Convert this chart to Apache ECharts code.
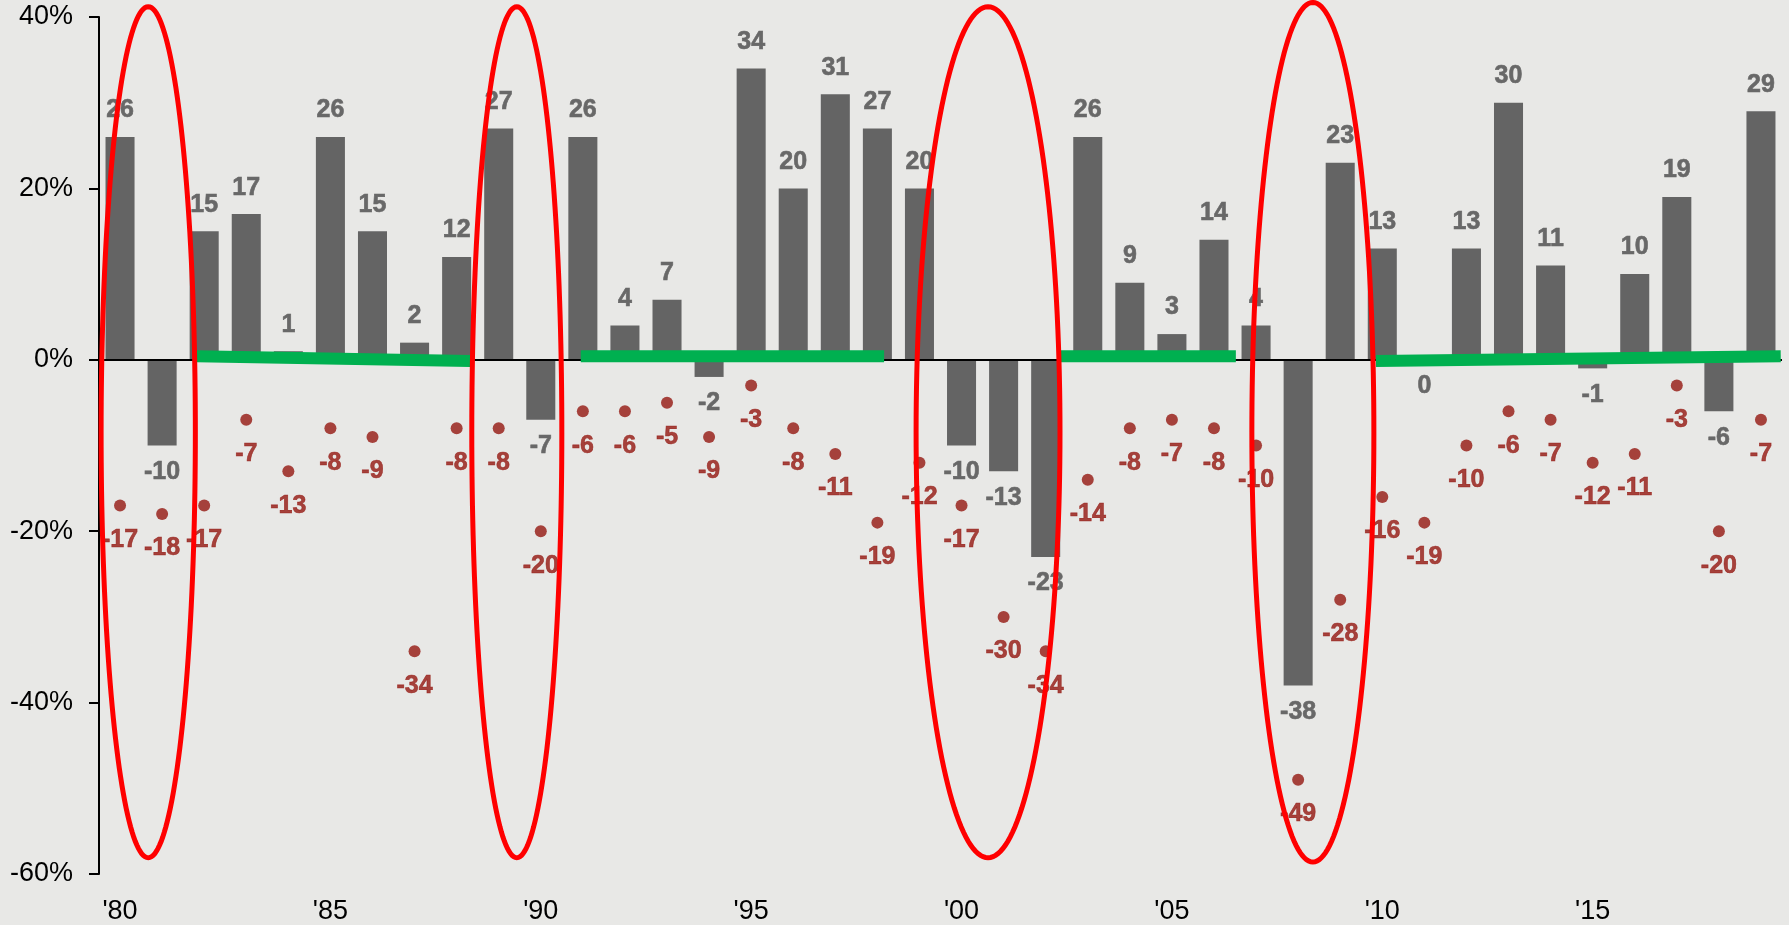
<!DOCTYPE html>
<html>
<head>
<meta charset="utf-8">
<title>Annual returns and intra-year declines</title>
<script src="https://cdn.jsdelivr.net/npm/echarts@6/dist/echarts.min.js"></script>
<style>
  html, body { margin: 0; padding: 0; background: #e8e8e6; }
  #chart { width: 1789px; height: 925px; }
</style>
</head>
<body>
<div id="chart"></div>
<script>
// Calendar years shown on the category axis
const years = ["1980","1981","1982","1983","1984","1985","1986","1987","1988","1989",
               "1990","1991","1992","1993","1994","1995","1996","1997","1998","1999",
               "2000","2001","2002","2003","2004","2005","2006","2007","2008","2009",
               "2010","2011","2012","2013","2014","2015","2016","2017","2018","2019"];

// Calendar-year total return, %
const annualReturns = [26, -10, 15, 17, 1, 26, 15, 2, 12, 27,
                       -7, 26, 4, 7, -2, 34, 20, 31, 27, 20,
                       -10, -13, -23, 26, 9, 3, 14, 4, -38, 23,
                       13, 0, 13, 30, 11, -1, 10, 19, -6, 29];

// Largest intra-year decline, %
const intraYearDeclines = [-17, -18, -17, -7, -13, -8, -9, -34, -8, -8,
                           -20, -6, -6, -5, -9, -3, -8, -11, -19, -12,
                           -17, -30, -34, -14, -8, -7, -8, -10, -49, -28,
                           -16, -19, -10, -6, -7, -12, -11, -3, -20, -7];

// Value-axis ticks, %
const yTicks = [-60, -40, -20, 0, 20, 40];

// Highlighted bear-market periods (ellipses): centre year, half width in years, top and bottom in %
const ellipseCenterYear = [1980.67, 1989.43, 2000.63, 2008.35];
const ellipseHalfWidth  = [1.12, 1.07, 1.71, 1.45];
const ellipseTop        = [41.2, 41.2, 41.2, 41.7];
const ellipseBottom     = [-58.1, -58.1, -58.1, -58.6];

// Recovery stretches (green strokes along the zero line): start/end year and level in %
const greenStartYear = [1981.83, 1990.95, 2002.34, 2009.85];
const greenEndYear   = [1988.32, 1998.16, 2006.52, 2019.47];
const greenStartPct  = [0.42, 0.42, 0.42, -0.15];
const greenEndPct    = [-0.15, 0.42, 0.42, 0.42];

const FONT = '"Liberation Sans", Arial, sans-serif';
const BAR_COLOR = '#646464';
const BAR_LABEL = '#686868';
const DOT_COLOR = '#931710';

const chart = echarts.init(document.getElementById('chart'), null, { renderer: 'canvas' });

// x position (px) of a fractional year on the category axis
function yearToX(api, year) {
  const p0 = api.coord([0, 0]);
  const p1 = api.coord([1, 0]);
  return p0[0] + (year - Number(years[0])) * (p1[0] - p0[0]);
}
function pctToY(api, pct) {
  return api.coord([0, pct])[1];
}

const barData = annualReturns.map(v => ({
  value: v,
  label: { position: v > 0 ? 'top' : 'bottom' }
}));

const option = {
  backgroundColor: '#e8e8e6',
  animation: false,
  textStyle: { fontFamily: FONT },
  grid: { left: 99, right: 7, top: 17, bottom: 51, containLabel: false },
  xAxis: {
    type: 'category',
    data: years,
    boundaryGap: true,
    axisLine: { show: false },
    axisTick: { show: false },
    axisLabel: {
      interval: 4,
      margin: 24,
      color: '#000',
      fontSize: 27,
      fontFamily: FONT,
      formatter: y => "'" + y.slice(2)
    },
    splitLine: { show: false }
  },
  yAxis: {
    type: 'value',
    min: yTicks[0],
    max: yTicks[yTicks.length - 1],
    interval: 20,
    axisLine: { show: true, onZero: false, lineStyle: { color: '#000', width: 2 } },
    axisTick: { show: true, length: 10, lineStyle: { color: '#000', width: 2 } },
    axisLabel: {
      margin: 26,
      color: '#000',
      fontSize: 27,
      fontFamily: FONT,
      formatter: v => v + '%'
    },
    splitLine: { show: false }
  },
  series: [
    {
      name: 'Annual return',
      type: 'bar',
      data: barData,
      barCategoryGap: '31%',
      itemStyle: { color: BAR_COLOR },
      label: {
        show: true,
        distance: 14,
        color: BAR_LABEL,
        fontSize: 25,
        fontWeight: 'bold',
        fontFamily: FONT,
        textBorderColor: BAR_LABEL,
        textBorderWidth: 0.6,
        formatter: p => String(p.value)
      },
      markLine: {
        silent: true,
        symbol: ['none', 'none'],
        label: { show: false },
        lineStyle: { color: '#000', width: 2, type: 'solid' },
        data: [{ yAxis: 0 }]
      },
      z: 2
    },
    {
      name: 'Intra-year decline',
      type: 'scatter',
      data: intraYearDeclines,
      symbol: 'circle',
      symbolSize: 12,
      itemStyle: { color: DOT_COLOR },
      label: {
        show: true,
        position: 'bottom',
        distance: 16,
        color: DOT_COLOR,
        fontSize: 25,
        fontWeight: 'bold',
        fontFamily: FONT,
        textBorderColor: DOT_COLOR,
        textBorderWidth: 0.6,
        formatter: p => String(p.value)
      },
      z: 3
    },
    {
      name: 'Recoveries',
      type: 'custom',
      data: greenStartYear.map((_, i) => [i, 0]),
      encode: { x: 0, y: 1 },
      clip: false,
      silent: true,
      z: 5,
      renderItem: (params, api) => {
        const i = params.dataIndex;
        return {
          type: 'line',
          shape: {
            x1: yearToX(api, greenStartYear[i]), y1: pctToY(api, greenStartPct[i]),
            x2: yearToX(api, greenEndYear[i]),   y2: pctToY(api, greenEndPct[i])
          },
          style: { stroke: '#00b050', lineWidth: 12, lineCap: 'butt' }
        };
      }
    },
    {
      name: 'Bear markets',
      type: 'custom',
      data: ellipseCenterYear.map((_, i) => [i, 0]),
      encode: { x: 0, y: 1 },
      clip: false,
      silent: true,
      z: 6,
      renderItem: (params, api) => {
        const i = params.dataIndex;
        const cx = yearToX(api, ellipseCenterYear[i]);
        const rx = yearToX(api, ellipseCenterYear[i] + ellipseHalfWidth[i]) - cx;
        const yTop = pctToY(api, ellipseTop[i]);
        const yBot = pctToY(api, ellipseBottom[i]);
        const cy = (yTop + yBot) / 2;
        const ry = (yBot - yTop) / 2;
        const pts = [];
        const n = 180;
        for (let k = 0; k < n; k++) {
          const t = (k / n) * Math.PI * 2;
          pts.push([cx + rx * Math.cos(t), cy + ry * Math.sin(t)]);
        }
        return {
          type: 'polygon',
          shape: { points: pts },
          style: { fill: null, stroke: '#ff0000', lineWidth: 5 }
        };
      }
    }
  ]
};

chart.setOption(option);
</script>
</body>
</html>
